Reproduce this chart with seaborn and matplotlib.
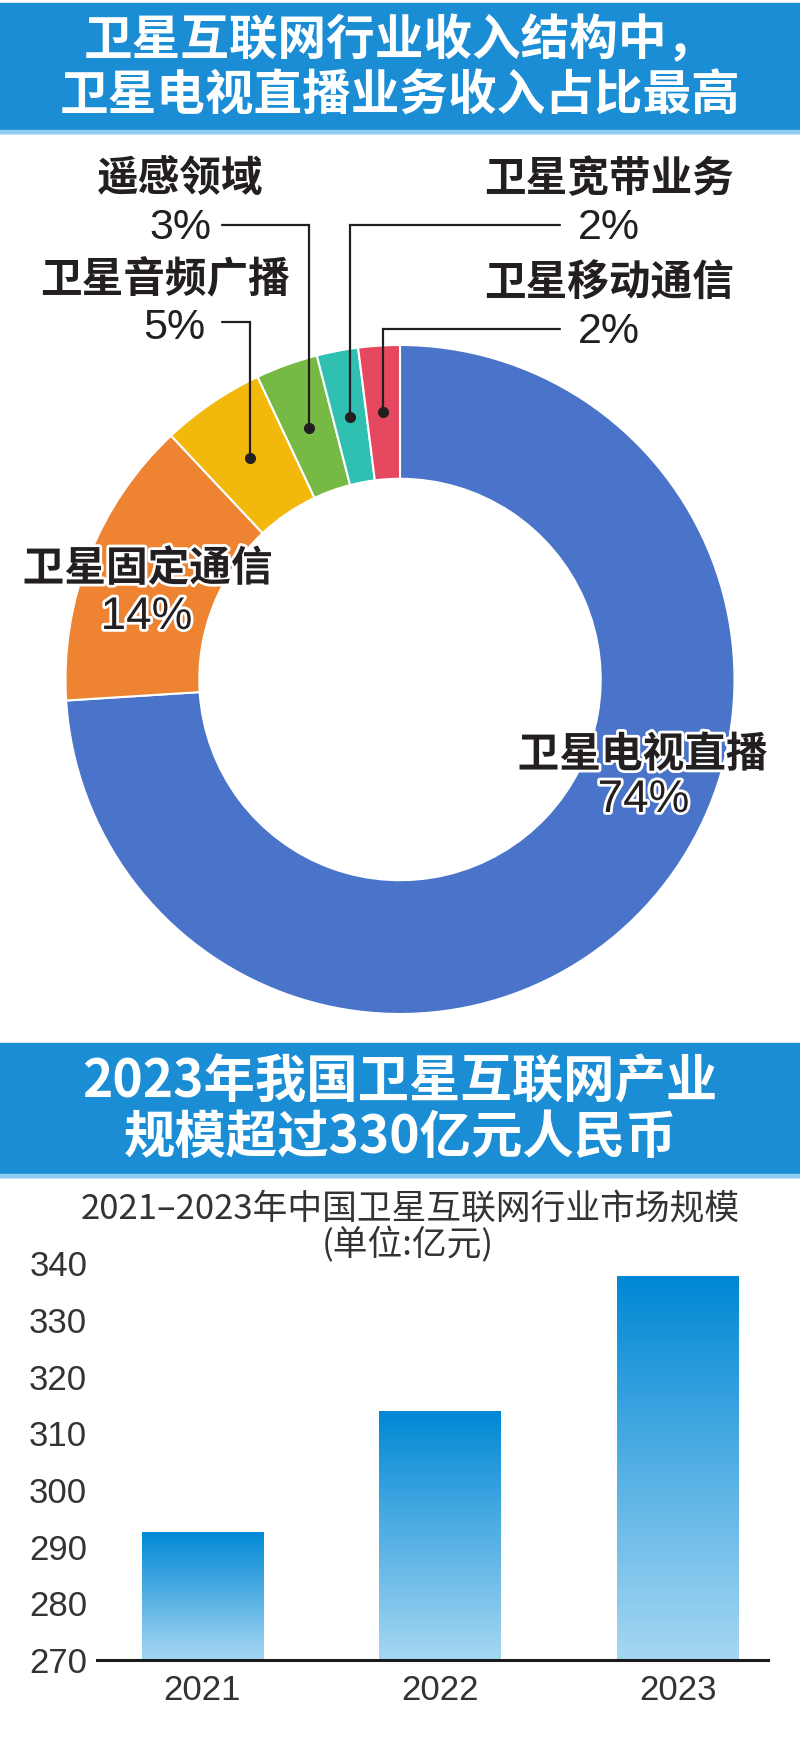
import numpy as np
import matplotlib
matplotlib.use("Agg")
import matplotlib.pyplot as plt
import matplotlib.patheffects as pe
from matplotlib.colors import LinearSegmentedColormap
import seaborn as sns

# ---------------- data ----------------
pie_labels = ["卫星电视直播", "卫星固定通信", "卫星音频广播", "遥感领域", "卫星宽带业务", "卫星移动通信"]
pie_shares = [74, 14, 5, 3, 2, 2]
pie_colors = ["#4A74C9", "#EE8431", "#F2B90C", "#76B944", "#2FC0B1", "#E5485F"]

bar_years = ["2021", "2022", "2023"]
bar_values = [292.6, 314.0, 337.7]
bar_ticks = [270, 280, 290, 300, 310, 320, 330, 340]

title1 = ["卫星互联网行业收入结构中，", "卫星电视直播业务收入占比最高"]
title2 = ["2023年我国卫星互联网产业", "规模超过330亿元人民币"]
bar_title = ["2021–2023年中国卫星互联网行业市场规模", "(单位:亿元)"]

# ---------------- style ----------------
sns.set_theme(style="white")
CJK = ["Noto Sans CJK SC", "DejaVu Sans"]
LAT = ["Liberation Sans", "Noto Sans CJK SC", "DejaVu Sans"]
plt.rcParams["font.family"] = CJK

W, H = 800, 1757
fig = plt.figure(figsize=(W / 100, H / 100), dpi=100)
fig.patch.set_facecolor("white")
bg = fig.add_axes([0, 0, 1, 1])
bg.set_axis_off()

def Y(y):
    return H - y

BANNER = "#1A8DD5"
TXT = "#231F20"

# banners
for (top, bot), lines, ys, fs in [((3, 133), title1, (41, 96), 35),
                                   ((1043, 1177), title2, (1082, 1137), 37)]:
    bg.add_patch(plt.Rectangle((0, Y(bot)), W, bot - top, color=BANNER, zorder=1))
    bg.add_patch(plt.Rectangle((0, Y(bot)), W, 3, color="#8FCDF2", zorder=1.1))
    for line, yy in zip(lines, ys):
        bg.text(400, Y(yy), line, color="white", fontsize=fs, fontweight="heavy",
                ha="center", va="center", family=CJK, zorder=3)

# ---------------- donut ----------------
cx, cy, R = 400, 679.5, 334.5
wedges, _ = bg.pie(pie_shares, colors=pie_colors, startangle=90, counterclock=False,
                   radius=R, center=(cx, Y(cy)),
                   wedgeprops=dict(width=R * 0.4, edgecolor="white", linewidth=1.5))
bg.set_xlim(0, W)
bg.set_ylim(0, H)
bg.set_aspect("auto")

def dot_pos(i):
    w = wedges[i]
    th = np.deg2rad((w.theta1 + w.theta2) / 2)
    return cx + 0.8 * R * np.cos(th), Y(cy) + 0.8 * R * np.sin(th)

# leader lines: (wedge index, line level y, line start x)
leaders = [(2, 322, 222), (3, 225, 222), (4, 225, 560), (5, 329, 560)]
for idx, ly, lx in leaders:
    dx, dy = dot_pos(idx)
    bg.plot([lx, dx, dx], [Y(ly), Y(ly), dy], color=TXT, lw=1.6,
            solid_joinstyle="miter", zorder=4)
    bg.plot([dx], [dy], "o", color=TXT, ms=7, zorder=5)

# labels: (index, name center, pct center)
label_pos = {
    3: ((180, 179), (180, 228)),
    2: ((165.5, 280), (174.5, 328)),
    4: ((608.5, 179), (608.5, 228)),
    5: ((608.5, 283), (608.5, 332)),
    1: ((147.5, 569), (146.5, 617)),
    0: ((642.5, 755), (643.5, 800)),
}
halo = [pe.withStroke(linewidth=4, foreground="white")]
for i, ((nx, ny), (px, py)) in label_pos.items():
    inner = i in (0, 1)
    bg.text(nx, Y(ny), pie_labels[i], fontsize=30, fontweight="bold", color=TXT,
            ha="center", va="center", family=CJK, zorder=6,
            path_effects=halo if inner else None)
    bg.text(px, Y(py), f"{pie_shares[i]}%", fontsize=33 if inner else 31, color=TXT,
            ha="center", va="center", family=LAT, zorder=6,
            path_effects=halo if inner else None)

# bar chart title
bg.text(410, Y(1210), bar_title[0], fontsize=25, color="#333333",
        ha="center", va="center", family=CJK)
bg.text(408, Y(1245), bar_title[1], fontsize=25, color="#333333",
        ha="center", va="center", family=CJK)

# ---------------- bar chart ----------------
ax = fig.add_axes([97 / W, (H - 1660) / H, 671 / W, (1660 - 1257) / H])
sns.barplot(x=bar_years, y=bar_values, ax=ax, width=0.51, color="#0A8AD6",
            saturation=1, edgecolor="none")
ymin, ymax = 270, 341.1
cmap = LinearSegmentedColormap.from_list("grad", ["#0088D5", "#A6D7F2"])
grad = np.linspace(0, 1, 256).reshape(-1, 1)
for p in list(ax.patches):
    x0 = p.get_x()
    x1 = x0 + p.get_width()
    top = p.get_y() + p.get_height()
    im = ax.imshow(grad, extent=[x0, x1, ymin, top], aspect="auto", cmap=cmap,
                   origin="upper", zorder=p.get_zorder() + 0.1, interpolation="bilinear")
    im.set_clip_path(p)
ax.set_xlim(-0.444, 2.381)
ax.set_ylim(ymin, ymax)
ax.set_aspect("auto")
ax.set_yticks(bar_ticks)
for s in ["left", "right", "top"]:
    ax.spines[s].set_visible(False)
ax.spines["bottom"].set_color("#1A1A1A")
ax.spines["bottom"].set_linewidth(2.2)
ax.spines["bottom"].set_zorder(10)
ax.tick_params(axis="both", length=0, labelsize=25, labelcolor="#333333")
ax.tick_params(axis="y", pad=7)
ax.tick_params(axis="x", pad=10)
for t in ax.get_xticklabels() + ax.get_yticklabels():
    t.set_family(LAT)
ax.set_xlabel("")
ax.set_ylabel("")
ax.set_facecolor("none")
ax.grid(False)

fig.savefig("out.png", dpi=100, facecolor="white")
